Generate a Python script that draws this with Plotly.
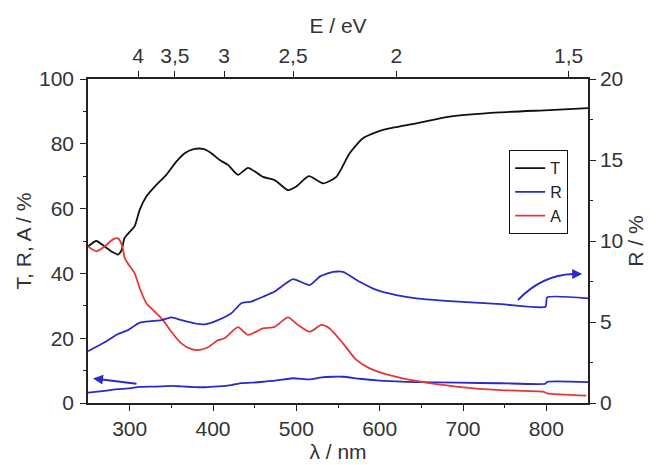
import plotly.graph_objects as go

# ---- data ----
lam_T = [250, 260, 270, 280, 286, 290, 294, 300, 306, 312, 320, 332, 344, 356, 366, 378, 388, 398, 408,
         418, 430, 442, 460, 474, 490, 500, 515, 532, 548, 564, 580, 604, 644, 684, 744, 804, 850]
T = [48.3, 50.0, 48.3, 46.5, 45.8, 47.0, 51.0, 52.8, 54.6, 59.6, 63.7, 67.3, 70.4, 74.5, 77.1, 78.4, 78.4,
     77.1, 75.0, 73.5, 70.4, 72.6, 69.8, 68.8, 65.7, 66.8, 70.0, 67.8, 69.8, 77.1, 81.7, 84.3, 86.3, 88.4,
     89.7, 90.4, 91.0]

lam_A = [250, 260, 270, 280, 286, 291, 294, 298, 306, 312, 320, 330, 340, 350, 362, 374, 384, 394, 406,
         414, 430, 442, 460, 474, 490, 502, 516, 530, 540, 556, 572, 588, 612, 644, 694, 746, 796, 801, 848]
A = [48.3, 46.8, 48.3, 50.5, 50.8, 48.5, 44.8, 43.0, 40.0, 35.5, 30.8, 28.2, 25.6, 22.0, 18.4, 16.6, 16.4,
     17.2, 19.4, 20.0, 23.4, 21.0, 23.0, 23.5, 26.4, 24.1, 22.0, 24.1, 23.0, 18.4, 13.3, 10.7, 8.6, 6.8,
     5.0, 4.0, 3.5, 3.0, 2.3]

lam_R = [250, 270, 286, 298, 312, 326, 338, 350, 362, 378, 390, 406, 422, 434, 446, 460, 474, 496, 516,
         528, 544, 556, 576, 596, 620, 644, 694, 746, 799, 801, 850]
R = [3.2, 3.75, 4.26, 4.5, 4.96, 5.05, 5.12, 5.28, 5.12, 4.92, 4.86, 5.12, 5.54, 6.16, 6.26, 6.56, 6.88,
     7.64, 7.28, 7.8, 8.1, 8.1, 7.48, 6.98, 6.66, 6.46, 6.26, 6.1, 5.94, 6.52, 6.46]

E_ticks = [4, 3.5, 3, 2.5, 2, 1.5]
E_labels = ["4", "3,5", "3", "2,5", "2", "1,5"]

BLUE = "#2a2ac8"
RED = "#e23838"
FONT = "Liberation Sans, Arial, sans-serif"
LW = 1.8

fig = go.Figure()
fig.add_trace(go.Scatter(x=lam_T, y=T, mode="lines", name="T",
                         line=dict(color="#111111", width=LW, shape="spline", smoothing=0.6)))
fig.add_trace(go.Scatter(x=lam_R, y=R, mode="lines", name="R",
                         line=dict(color=BLUE, width=LW, shape="spline", smoothing=0.5)))
fig.add_trace(go.Scatter(x=lam_A, y=A, mode="lines", name="A",
                         line=dict(color=RED, width=LW, shape="spline", smoothing=0.6)))
fig.add_trace(go.Scatter(x=lam_R, y=R, mode="lines", name="R", showlegend=False, yaxis="y2",
                         line=dict(color=BLUE, width=LW, shape="spline", smoothing=0.5)))
# helper trace so the top (energy) axis is drawn
fig.add_trace(go.Scatter(x=[lam_T[0], lam_T[-1]], y=[None, None], xaxis="x2", mode="lines",
                         showlegend=False, hoverinfo="skip"))

axis_common = dict(showline=True, linecolor="#222222", linewidth=1.5, ticks="outside",
                   tickcolor="#222222", ticklen=6, tickwidth=1.3, showgrid=False, zeroline=False,
                   automargin=False, tickfont=dict(size=21, color="#333333", family=FONT))

fig.update_layout(
    width=656, height=465,
    margin=dict(l=88, r=68, t=79, b=62),
    paper_bgcolor="white", plot_bgcolor="white",
    font=dict(family=FONT, color="#333333"),
    xaxis=dict(range=[250, 850], tickvals=[300, 400, 500, 600, 700, 800],
               minor=dict(tickvals=[350, 450, 550, 650, 750], ticklen=3, ticks="outside",
                          tickcolor="#222222", tickwidth=1.2),
               title=dict(text="λ / nm", font=dict(size=21, color="#333333"), standoff=0),
               **axis_common),
    xaxis2=dict(range=[250, 850], overlaying="x", side="top", anchor="y",
                tickvals=[1240 / e for e in E_ticks], ticktext=E_labels,
                title=dict(text="E / eV", font=dict(size=21, color="#333333"), standoff=4),
                **axis_common),
    yaxis=dict(range=[0, 100], tickvals=[0, 20, 40, 60, 80, 100], ticklabelstandoff=2,
               minor=dict(tickvals=[10, 30, 50, 70, 90], ticklen=3, ticks="outside",
                          tickcolor="#222222", tickwidth=1.2),
               title=dict(text="T, R, A / %", font=dict(size=21, color="#333333"), standoff=2),
               **axis_common),
    yaxis2=dict(range=[0, 20], overlaying="y", side="right", anchor="x",
                tickvals=[0, 5, 10, 15, 20],
                minor=dict(tickvals=[2.5, 7.5, 12.5, 17.5], ticklen=3, ticks="outside",
                           tickcolor="#222222", tickwidth=1.2),
                title=dict(text="R / %", font=dict(size=21, color="#333333"), standoff=6),
                **axis_common),
    legend=dict(x=0.842, y=0.781, xanchor="left", yanchor="top", bordercolor="#111111",
                borderwidth=1.2, bgcolor="white", font=dict(size=16, color="#222222", family=FONT),
                tracegroupgap=0, itemwidth=30),
    showlegend=True,
)

# left-pointing arrow (lower R curve -> left axis)
fig.add_annotation(x=256, y=7.6, ax=310, ay=5.9, xref="x", yref="y", axref="x", ayref="y",
                   showarrow=True, arrowhead=2, arrowsize=1, arrowwidth=2, arrowcolor=BLUE, text="")
# curved right-pointing arrow (upper R curve -> right axis)
fig.add_shape(type="path", xref="x", yref="y", path="M 766,31.8 Q 795,39.5 832,39.8",
              line=dict(color=BLUE, width=2))
fig.add_annotation(x=843, y=39.8, ax=828, ay=39.8, xref="x", yref="y", axref="x", ayref="y",
                   showarrow=True, arrowhead=2, arrowsize=1, arrowwidth=2, arrowcolor=BLUE, text="")

fig.write_html("out.html")
